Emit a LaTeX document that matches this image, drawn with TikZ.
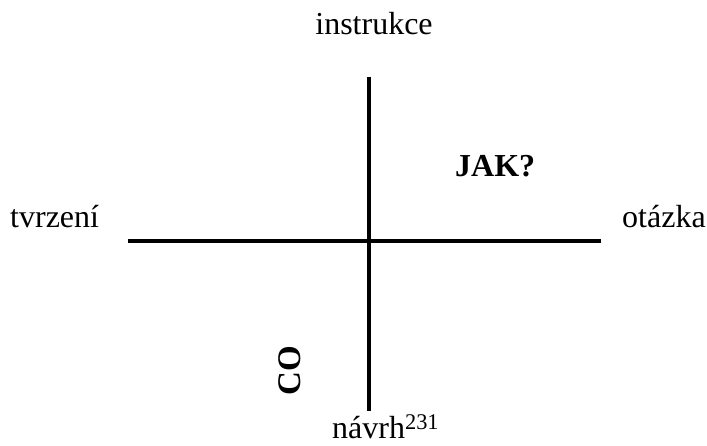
\documentclass[tikz,border=0pt]{standalone}
\usepackage{fontspec}
\setmainfont{Liberation Serif}
\begin{document}
\begin{tikzpicture}[x=1pt,y=1pt,
  lbl/.style={inner sep=0pt,font=\fontsize{32}{38}\selectfont},
  axis/.style={line width=3.4pt}]
\useasboundingbox (0,0) rectangle (707,446);
\coordinate (top) at (369,369.3);
\coordinate (bot) at (369,35.3);
\coordinate (lft) at (128.3,205);
\coordinate (rgt) at (600.7,205);
\draw[axis] (top) -- (bot);
\draw[axis] (lft) -- (rgt);
\node[lbl,anchor=base] (instr) at (374,411) {instrukce};
\node[lbl,anchor=base west] (tvr) at (10,218) {tvrzení};
\node[lbl,anchor=base west] (ot) at (622,218) {otázka};
\node[lbl,anchor=base west,font=\fontsize{32}{38}\selectfont\bfseries] (jak) at (455,269) {JAK?};
\node[lbl,rotate=90,text depth=0pt,font=\fontsize{33}{38}\selectfont\bfseries] (co) at (290,75.5) {CO};
\node[lbl,anchor=base west] (navrh) at (332,7) {návrh\textsuperscript{231}};
\end{tikzpicture}
\end{document}
